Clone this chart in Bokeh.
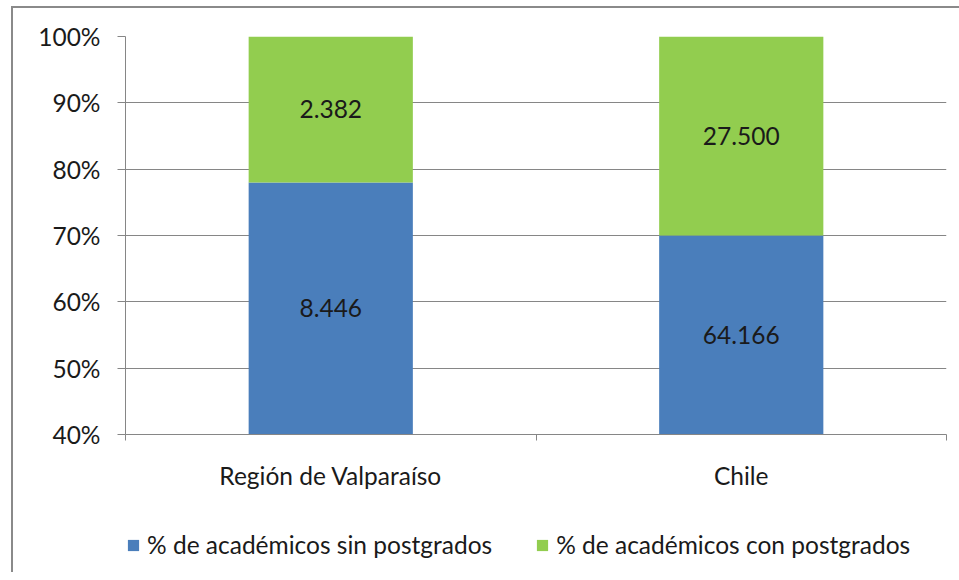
from bokeh.plotting import figure
from bokeh.layouts import column
from bokeh.models import (Range1d, LinearAxis, FixedTicker,
                          NumeralTickFormatter, Legend, LegendItem, ColumnDataSource)
from bokeh.core.properties import value
from bokeh.embed import file_html
from bokeh.resources import INLINE

# ---- data ----
categories = ["Región de Valparaíso", "Chile"]
sin_postgrado = [8446, 64166]
con_postgrado = [2382, 27500]
series_names = ["% de académicos sin postgrados", "% de académicos con postgrados"]
y_ticks = [0.4, 0.5, 0.6, 0.7, 0.8, 0.9, 1.0]

# ---- derived ----
n = len(categories)
xpos = [i + 0.5 for i in range(n)]          # category centres
edges = [i for i in range(n + 1)]           # category boundaries
totals = [a + b for a, b in zip(sin_postgrado, con_postgrado)]
share_sin = [a / t for a, t in zip(sin_postgrado, totals)]
y_min, y_max = y_ticks[0], y_ticks[-1]

FONT = "Lato"
FS = "24.5px"
TXT = "#1a1a1a"
GRAY = "#868686"
BLUE = "#4A7EBB"
GREEN = "#92CD4F"
colors = [BLUE, GREEN]

def fmt(v):
    return f"{v:,}".replace(",", ".")

src = ColumnDataSource(dict(
    x=xpos,
    b0=[0] * n,
    b1=share_sin,
    b2=[1.0] * n,
))

p = figure(x_range=Range1d(edges[0], edges[-1]), y_range=Range1d(y_min, y_max),
           frame_width=819, frame_height=396,
           min_border_left=112, min_border_top=28, min_border_right=15, min_border_bottom=60,
           output_backend="svg", toolbar_location=None, x_axis_location=None)
p.margin = (6, 0, 0, 11)
p.styles = {"border-left": "2px solid #8a8a8a", "border-top": "2px solid #8a8a8a"}
p.outline_line_color = None
p.background_fill_color = "white"
p.border_fill_color = "white"

p.vbar(x="x", bottom="b0", top="b1", width=0.4, source=src, fill_color=colors[0], line_color=None)
p.vbar(x="x", bottom="b1", top="b2", width=0.4, source=src, fill_color=colors[1], line_color=None)

# data labels centered in the visible part of each segment
lab = ColumnDataSource(dict(
    x=xpos + xpos,
    y=[(max(0, y_min) + s) / 2 for s in share_sin] + [(s + 1.0) / 2 for s in share_sin],
    t=[fmt(v) for v in sin_postgrado] + [fmt(v) for v in con_postgrado],
))
p.text(x="x", y="y", text="t", source=lab, text_align="center", text_baseline="middle",
       text_font=value(FONT), text_font_size=FS, text_color=TXT)

# y axis
p.yaxis.ticker = FixedTicker(ticks=y_ticks)
p.yaxis.formatter = NumeralTickFormatter(format="0%")
p.yaxis.major_tick_out = 8
p.yaxis.major_tick_in = 0
p.yaxis.minor_tick_line_color = None
p.yaxis.axis_line_color = GRAY
p.yaxis.major_tick_line_color = GRAY
p.yaxis.major_label_text_font = FONT
p.yaxis.major_label_text_font_size = FS
p.yaxis.major_label_text_color = TXT
p.yaxis.major_label_standoff = 17

p.ygrid.grid_line_color = GRAY
p.xgrid.visible = False

# x axis: boundary ticks + category labels
tick_axis = LinearAxis(ticker=FixedTicker(ticks=edges),
                       major_label_overrides={t: "" for t in edges},
                       major_label_text_font_size="0px", major_label_standoff=0,
                       major_tick_out=6, major_tick_in=0, minor_tick_line_color=None,
                       axis_line_color=GRAY, major_tick_line_color=GRAY)
cat_axis = LinearAxis(ticker=FixedTicker(ticks=xpos),
                      major_label_overrides={x: c for x, c in zip(xpos, categories)},
                      axis_line_color=None, major_tick_line_color=None, minor_tick_line_color=None,
                      major_label_text_font=FONT, major_label_text_font_size=FS,
                      major_label_text_color=TXT, major_label_standoff=14)
p.add_layout(tick_axis, "below")
p.add_layout(cat_axis, "below")

# legend in its own strip below the chart (proxy renderers lie outside the strip's range)
lf = figure(width=946, height=80, x_range=Range1d(0, 1), y_range=Range1d(0, 1),
            output_backend="svg", toolbar_location=None,
            x_axis_location=None, y_axis_location=None, min_border=0)
lf.margin = (0, 0, 0, 11)
lf.styles = {"border-left": "2px solid #8a8a8a"}
lf.outline_line_color = None
lf.xgrid.visible = False
lf.ygrid.visible = False
proxy = ColumnDataSource(dict(x=[-5], top=[-5], bottom=[-6]))
dummy = [lf.vbar(x="x", top="top", bottom="bottom", width=0.1, source=proxy,
                 fill_color=c, line_color=None) for c in colors]
legend = Legend(items=[LegendItem(label=nm, renderers=[r]) for nm, r in zip(series_names, dummy)],
                orientation="horizontal", location=(1, 13),
                label_text_font=FONT, label_text_font_size=FS, label_text_color=TXT,
                glyph_width=14, glyph_height=14, label_standoff=7, spacing=43,
                border_line_color=None, background_fill_alpha=0, margin=0, padding=0)
lf.add_layout(legend, "center")

layout = column(p, lf, spacing=0)
open("out.html", "w").write(file_html(layout, INLINE))
